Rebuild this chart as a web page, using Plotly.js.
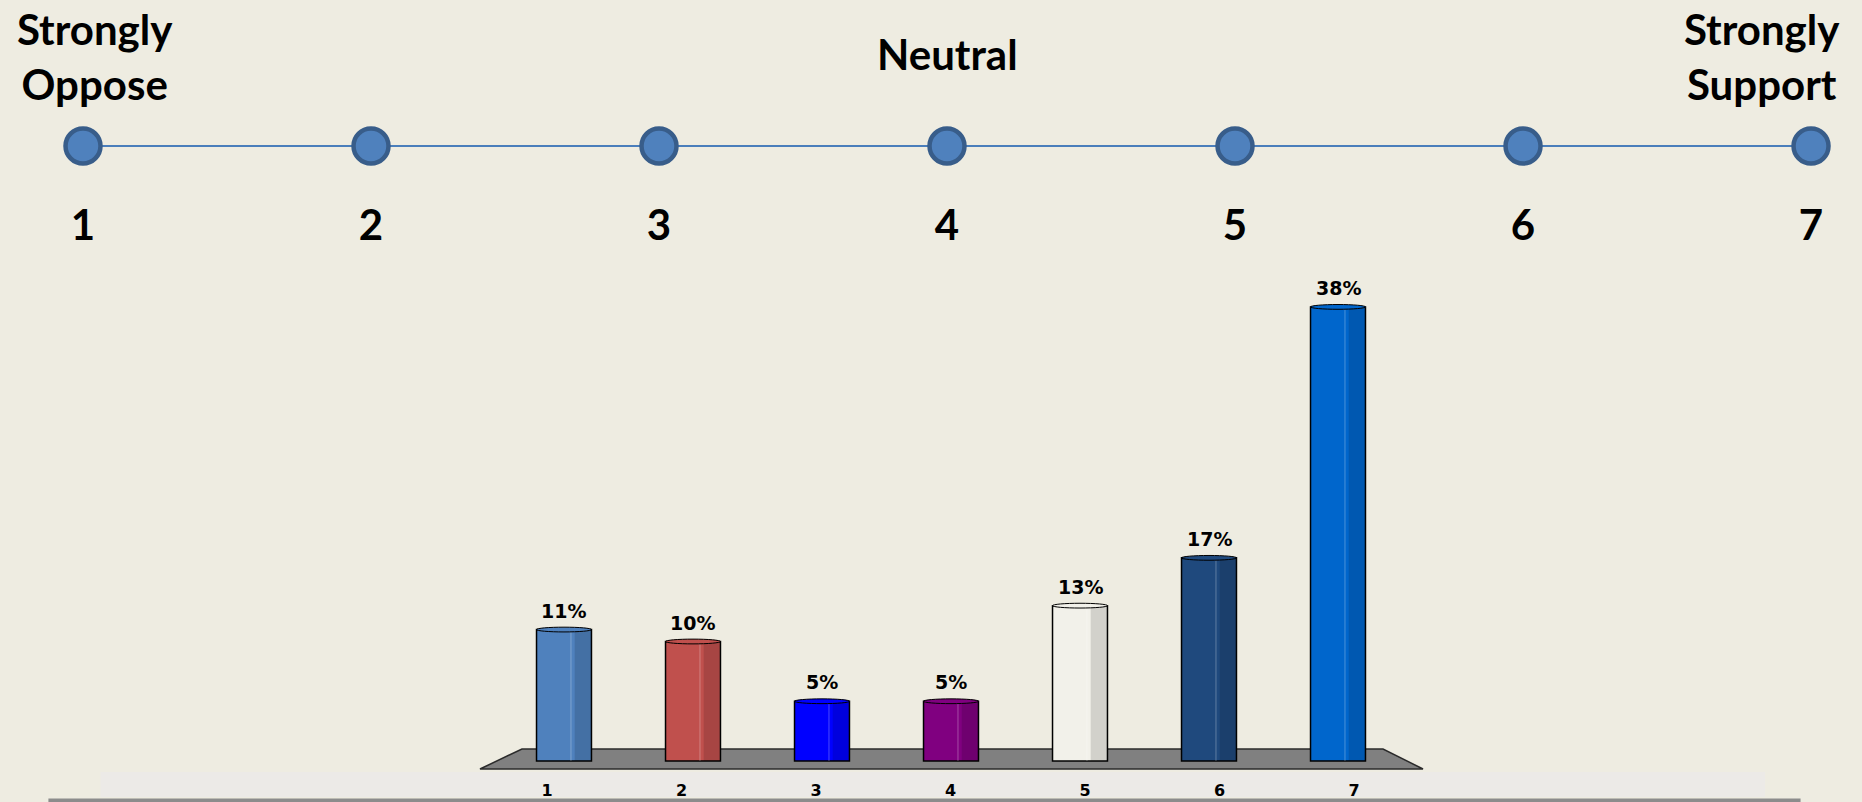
<!DOCTYPE html>
<html>
<head>
<meta charset="utf-8">
<script src="https://cdn.plot.ly/plotly-3.0.1.min.js"></script>
<style>
  html, body { margin: 0; padding: 0; background: #eeece1; overflow: hidden; }
  #chart { width: 1862px; height: 802px; }
</style>
</head>
<body>
<div id="chart"></div>
<script>
// Response categories on the 1–7 scale and the share of answers for each
const categories = ['1', '2', '3', '4', '5', '6', '7'];
const shares = [11, 10, 5, 5, 13, 17, 38];
const barColors = ['#4f81bd', '#c0504d', '#0000ff', '#800080', '#f2f1ea', '#1f497d', '#0066cc'];

// Scale ruler across the top
const scaleTicks = ['1', '2', '3', '4', '5', '6', '7'];
const anchorText = ['Strongly<br>Oppose', 'Neutral', 'Strongly<br>Support'];
const anchorTick = ['1', '4', '7'];

const barPos = categories.map((c, i) => i + 1);
const scalePos = scaleTicks.map((t, i) => i + 1);
const BAR_W = 0.426;
const HALF = BAR_W / 2;

const titleFont = { family: 'Lato, "Open Sans", sans-serif', size: 42, color: '#000000', weight: 'bold' };
const valueFont = { family: '"DejaVu Sans", Verdana, sans-serif', size: 19, color: '#000000', weight: 'bold' };

const traces = [
  // cylinder bodies
  {
    type: 'bar', x: barPos, y: shares, width: BAR_W,
    marker: { color: barColors, line: { color: '#000000', width: 1.5 } },
    hoverinfo: 'skip', xaxis: 'x', yaxis: 'y'
  },
  // shaded right side of each cylinder
  {
    type: 'bar', x: barPos, y: shares, width: 0.13, offset: 0.083,
    marker: { color: 'rgba(0,0,0,0.13)', line: { width: 0 } },
    hoverinfo: 'skip', xaxis: 'x', yaxis: 'y'
  },
  // thin highlight stripe
  {
    type: 'bar', x: barPos, y: shares, width: 0.008, offset: 0.05,
    marker: { color: 'rgba(255,255,255,0.28)', line: { width: 0 } },
    hoverinfo: 'skip', xaxis: 'x', yaxis: 'y'
  },
  // carrier for the category labels along the front edge of the floor
  {
    type: 'scatter', mode: 'none', x: barPos, y: shares,
    hoverinfo: 'skip', xaxis: 'x2', yaxis: 'y'
  },
  // scale ruler
  {
    type: 'scatter', mode: 'lines+markers',
    x: scalePos, y: scalePos.map(() => 0),
    line: { color: '#4a7ebb', width: 2 },
    marker: { size: 35, color: '#4f81bd', line: { color: '#385d8a', width: 4.5 } },
    hoverinfo: 'skip', xaxis: 'x3', yaxis: 'y3'
  }
];

const first = barPos[0];
const last = barPos[barPos.length - 1];

const shapes = [
  // grey floor under the cylinders
  {
    type: 'path', xref: 'x', yref: 'y', layer: 'below',
    path: `M ${first - 0.326},1.004 L ${last + 0.349},1.004 L ${last + 0.659},-0.669 L ${first - 0.651},-0.669 Z`,
    fillcolor: '#808080', line: { color: '#2b2b2b', width: 1.5 }
  },
  // light strip and grey rule at the foot of the page
  {
    type: 'rect', xref: 'paper', yref: 'paper', layer: 'below',
    x0: 0.054, x1: 0.948, y0: 0.0062, y1: 0.0374,
    fillcolor: '#eceae7', line: { width: 0 }
  },
  {
    type: 'rect', xref: 'paper', yref: 'paper', layer: 'above',
    x0: 0.026, x1: 0.967, y0: 0, y1: 0.0045,
    fillcolor: '#8c8c8c', line: { width: 0 }
  }
];

// rounded caps on top of each cylinder
barPos.forEach((x, i) => {
  shapes.push({
    type: 'circle', xref: 'x', yref: 'y', layer: 'above',
    x0: x - HALF, x1: x + HALF, y0: shares[i] - 0.2, y1: shares[i] + 0.2,
    fillcolor: barColors[i], line: { color: '#000000', width: 1 }
  });
});

const annotations = [];
// value labels above the cylinders
barPos.forEach((x, i) => {
  annotations.push({
    xref: 'x', yref: 'y', x: x, y: shares[i], yanchor: 'middle', yshift: 19,
    text: shares[i] + '%', showarrow: false, font: valueFont
  });
});
// end and mid point captions of the ruler
const captionShift = [12, 0, -49];
anchorText.forEach((t, i) => {
  annotations.push({
    xref: 'x3', yref: 'paper', x: scaleTicks.indexOf(anchorTick[i]) + 1,
    xshift: captionShift[i], y: i === 1 ? 0.933 : 0.929, yanchor: 'middle',
    text: t, showarrow: false, align: 'center', font: titleFont
  });
});

const hidden = { showgrid: false, zeroline: false, showline: false, showticklabels: false, ticks: '', fixedrange: true };

const layout = {
  width: 1862, height: 802,
  margin: { l: 0, r: 0, t: 0, b: 0, pad: 0 },
  paper_bgcolor: '#eeece1', plot_bgcolor: 'rgba(0,0,0,0)',
  showlegend: false, barmode: 'overlay',
  xaxis: Object.assign({}, hidden, { domain: [0, 1], range: [-3.372, 11.062] }),
  yaxis: Object.assign({}, hidden, { domain: [0, 1], range: [-3.431, 63.682] }),
  xaxis2: {
    overlaying: 'x', anchor: 'free', position: 0.0287, side: 'bottom',
    range: [-3.067, 10.777], tickmode: 'array', tickvals: barPos, ticktext: categories,
    showgrid: false, zeroline: false, showline: false, ticks: '',
    tickfont: { family: '"DejaVu Sans", Verdana, sans-serif', size: 16, color: '#000000', weight: 'bold' }
  },
  xaxis3: {
    domain: [0, 1], anchor: 'y3', range: [0.7118, 7.177],
    tickmode: 'array', tickvals: scalePos, ticktext: scaleTicks,
    showgrid: false, zeroline: false, showline: false, ticks: '',
    tickfont: titleFont
  },
  yaxis3: Object.assign({}, hidden, { domain: [0.7544, 0.8816], range: [-1, 1], anchor: 'x3' }),
  shapes: shapes,
  annotations: annotations
};

Plotly.newPlot('chart', traces, layout, { displayModeBar: false, staticPlot: true });
</script>
</body>
</html>
